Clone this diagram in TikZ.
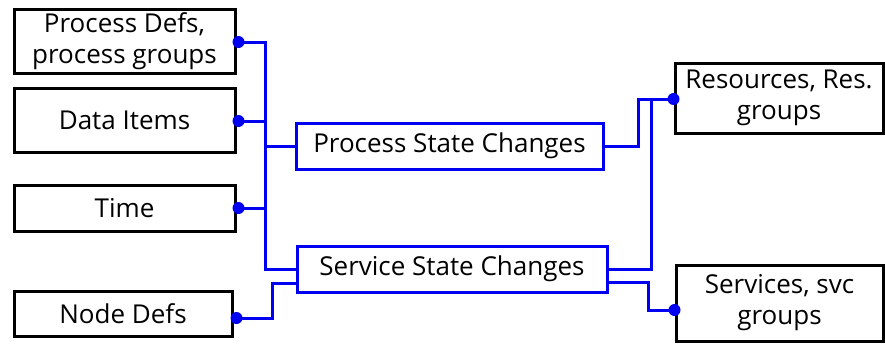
\documentclass[tikz,border=0pt]{standalone}
\usepackage{fontspec}
\setmainfont{Open Sans}
\usetikzlibrary{calc}
\definecolor{wireblue}{RGB}{0,0,240}
\tikzset{
  box/.style={draw=black, line width=3pt, fill=white, align=center, inner sep=0pt, font=\fontsize{26}{31}\selectfont},
  sbox/.style={draw=wireblue, line width=3pt, fill=white, align=center, inner sep=0pt, font=\fontsize{26}{31}\selectfont},
  wire/.style={draw=wireblue, line width=3pt},
  dot/.style={circle, fill=wireblue, inner sep=0pt, minimum size=12pt}
}
\begin{document}
\begin{tikzpicture}[x=1pt,y=-1pt]
\useasboundingbox (0,0) rectangle (885,343);
% nodes
\node[box, minimum width=221pt, minimum height=64pt] (pdefs) at (124.5,41) {Process Defs,\\process groups};
\node[box, minimum width=221pt, minimum height=64pt] (data) at (124.5,120) {Data Items};
\node[box, minimum width=221pt, minimum height=46pt] (time) at (124.5,208) {Time};
\node[box, minimum width=218pt, minimum height=45pt] (ndefs) at (123,313.5) {Node Defs};
\node[sbox, minimum width=307pt, minimum height=46pt] (psc) at (449.5,146) {Process State Changes};
\node[sbox, minimum width=310pt, minimum height=46pt] (ssc) at (452,269) {Service State Changes};
\node[box, minimum width=208pt, minimum height=70pt] (res) at (779,98) {Resources, Res.\\groups};
\node[box, minimum width=207pt, minimum height=76pt] (svc) at (779.5,303) {Services, svc\\groups};
% coordinates
\coordinate (busB) at (265,269);
\coordinate (ndJ) at (272,283);
\coordinate (rJ) at (638,99);
\coordinate (rJ2) at (651,99);
\coordinate (sJ) at (648,310);
% left wires
\draw[wire] ($(pdefs.east)+(0,1)$) -| (busB) -- (ssc.west);
\draw[wire] ($(data.east)+(0,1)$) -- ($(data.east)+(30,1)$);
\draw[wire] (time.east) -- (time.east -| busB);
\draw[wire] (psc.west -| busB) -- (psc.west);
\draw[wire] ($(ndefs.east)+(0,4.5)$) -| (ndJ) -- (ndJ -| ssc.west);
% right wires
\draw[wire] (psc.east) -| (rJ) -- (rJ -| res.west);
\draw[wire] (ssc.east) -| (rJ2);
\draw[wire] ($(ssc.east)+(0,13)$) -| (sJ) -- (sJ -| svc.west);
% dots
\node[dot] (d1) at ($(pdefs.east)+(2,1)$) {};
\node[dot] (d2) at ($(data.east)+(2,1)$) {};
\node[dot] (d3) at ($(time.east)+(2,0)$) {};
\node[dot] (d4) at ($(ndefs.east)+(3,4.5)$) {};
\node[dot] (d5) at (rJ -| res.west) {};
\node[dot] (d6) at (sJ -| svc.west) {};
\end{tikzpicture}
\end{document}
